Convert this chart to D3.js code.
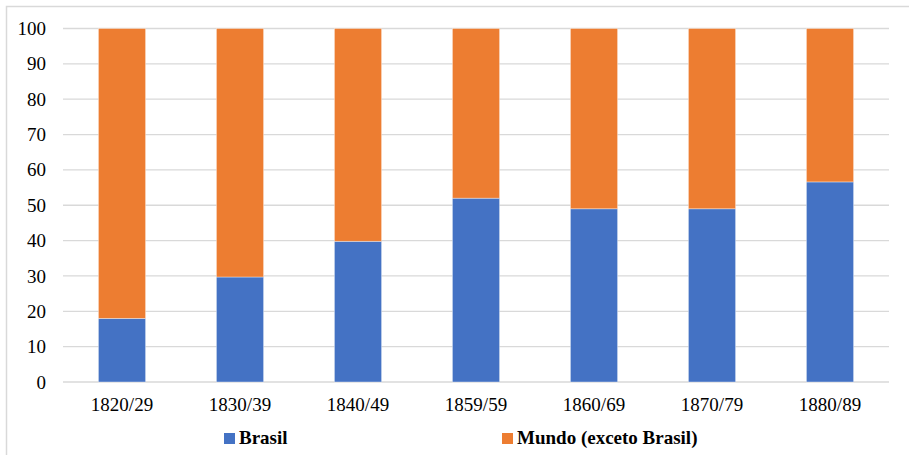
<!DOCTYPE html>
<html>
<head>
<meta charset="utf-8">
<script src="https://cdn.jsdelivr.net/npm/d3@7"></script>
<style>
  body { margin: 0; background: #fff; }
</style>
</head>
<body>
<svg id="chart" width="909" height="455"></svg>
<script>
// data
const periods = ['1820/29', '1830/39', '1840/49', '1859/59', '1860/69', '1870/79', '1880/89'];
const brasil = [18, 29.7, 39.8, 52, 49, 49, 56.6];
const mundo = brasil.map(v => 100 - v);
const yTicks = [0, 10, 20, 30, 40, 50, 60, 70, 80, 90, 100];
const seriesNames = ['Brasil', 'Mundo (exceto Brasil)'];
const colors = ['#4472c4', '#ed7d31'];

const FONT = "'Liberation Serif', 'Times New Roman', Tinos, 'DejaVu Serif', 'Noto Serif', serif";

const svg = d3.select('#chart');
const margin = { left: 63, right: 20, top: 28.5, bottom: 73 };

// frame
svg.append('rect')
  .attr('x', 6.5).attr('y', 6.5)
  .attr('width', 1000).attr('height', 1000)
  .attr('fill', 'none')
  .attr('stroke', '#d9d9d9')
  .attr('stroke-width', 1.5);

const xScale = d3.scaleBand()
  .domain(periods)
  .range([margin.left, 889])
  .paddingInner(0.6)
  .paddingOuter(0.3);

const yScale = d3.scaleLinear()
  .domain([0, 100])
  .range([382, margin.top]);

// gridlines
svg.append('g')
  .selectAll('line')
  .data(yTicks)
  .enter().append('line')
  .attr('x1', margin.left).attr('x2', 889)
  .attr('y1', d => yScale(d)).attr('y2', d => yScale(d))
  .attr('stroke', '#d9d9d9')
  .attr('stroke-width', 1.3);

// y axis labels
const yAxis = d3.axisLeft(yScale).tickValues(yTicks).tickSize(0).tickPadding(0);
svg.append('g')
  .attr('transform', 'translate(46,0)')
  .call(yAxis)
  .attr('font-family', null)
  .call(g => g.select('.domain').remove())
  .selectAll('text')
  .style('font-family', FONT)
  .style('font-size', '19px')
  .attr('fill', '#000');

// stacked bars
const rows = periods.map((p, i) => ({ period: p, Brasil: brasil[i], Mundo: mundo[i] }));
const stack = d3.stack().keys(['Brasil', 'Mundo'])(rows);

svg.append('g')
  .selectAll('g')
  .data(stack)
  .enter().append('g')
  .attr('fill', (d, i) => colors[i])
  .selectAll('rect')
  .data(d => d)
  .enter().append('rect')
  .attr('x', d => xScale(d.data.period))
  .attr('width', xScale.bandwidth())
  .attr('y', d => yScale(d[1]))
  .attr('height', d => yScale(d[0]) - yScale(d[1]))
  .attr('stroke', '#fff')
  .attr('stroke-opacity', 0.5)
  .attr('stroke-width', 0.75);

// x axis labels
const xAxis = d3.axisBottom(xScale).tickSize(0).tickPadding(0);
svg.append('g')
  .attr('transform', 'translate(0,397)')
  .call(xAxis)
  .attr('font-family', null)
  .call(g => g.select('.domain').remove())
  .selectAll('text')
  .style('font-family', FONT)
  .style('font-size', '19px')
  .attr('fill', '#000')
  .attr('dy', '0.71em');

// legend
const legendX = [224, 502];
const legend = svg.append('g')
  .selectAll('g')
  .data(seriesNames)
  .enter().append('g')
  .attr('transform', (d, i) => `translate(${legendX[i]},433)`);

legend.append('rect')
  .attr('width', 11).attr('height', 11)
  .attr('fill', (d, i) => colors[i]);

legend.append('text')
  .attr('x', 15).attr('y', 10.5)
  .style('font-family', FONT)
  .style('font-size', '19px')
  .style('font-weight', 'bold')
  .attr('fill', '#000')
  .text(d => d);
</script>
</body>
</html>
